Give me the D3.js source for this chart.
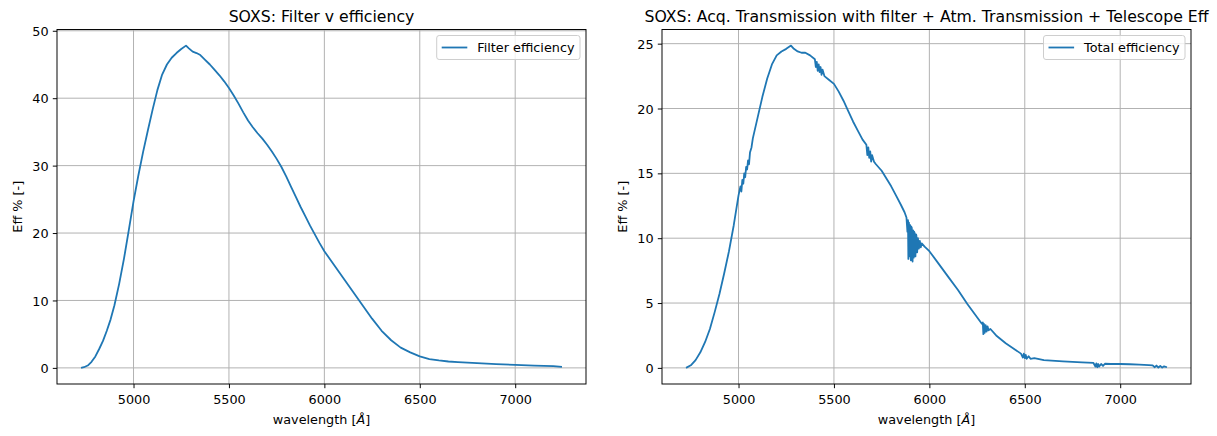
<!DOCTYPE html>
<html>
<head>
<meta charset="utf-8">
<script src="https://cdn.jsdelivr.net/npm/d3@7"></script>
<style>
  body { margin: 0; background: #fff; }
  svg text { font-family: "DejaVu Sans", sans-serif; fill: #000; }
</style>
</head>
<body>
<svg id="fig" width="1217" height="436"></svg>
<script>
// --- data ---
const filterWl = [4725, 4740, 4760, 4780, 4800, 4820, 4840, 4860, 4880, 4900, 4925, 4950, 4975, 5000,
  5025, 5050, 5075, 5100, 5125, 5150, 5175, 5200, 5225, 5250, 5275, 5290, 5310, 5330, 5350, 5375,
  5400, 5425, 5450, 5475, 5500, 5525, 5550, 5575, 5600, 5625, 5650, 5675, 5700, 5725, 5750, 5775,
  5800, 5825, 5850, 5875, 5900, 5925, 5950, 5975, 6000, 6050, 6100, 6150, 6200, 6250, 6300, 6350,
  6400, 6450, 6500, 6550, 6600, 6650, 6700, 6800, 6900, 7000, 7100, 7200, 7245];
const filterEff = [0, 0.1, 0.35, 0.9, 1.7, 2.8, 4.0, 5.5, 7.2, 9.3, 12.5, 16.2, 20.4, 24.7,
  28.5, 32.0, 35.2, 38.3, 41.2, 43.5, 45.0, 46.0, 46.7, 47.3, 47.8, 47.4, 46.9, 46.7, 46.4, 45.7,
  45.0, 44.2, 43.4, 42.5, 41.5, 40.4, 39.2, 37.9, 36.7, 35.7, 34.8, 34.0, 33.1, 32.1, 31.0, 29.8,
  28.4, 26.9, 25.4, 23.9, 22.5, 21.1, 19.8, 18.5, 17.3, 15.3, 13.3, 11.3, 9.3, 7.3, 5.5, 4.1,
  3.0, 2.3, 1.7, 1.3, 1.1, 0.95, 0.85, 0.7, 0.55, 0.45, 0.35, 0.25, 0.15];

const totalWl = [4725, 4750, 4775, 4800, 4825, 4850, 4875, 4900, 4925, 4950, 4975, 5000,
  5010, 5015, 5020, 5025, 5030, 5035, 5040, 5045, 5050, 5055, 5060, 5068, 5075, 5100, 5125, 5150, 5175,
  5200, 5225, 5250, 5275, 5290, 5310, 5330, 5350, 5375, 5400,
  5405, 5410, 5415, 5420, 5425, 5430, 5435, 5440, 5450, 5475, 5500, 5525, 5550, 5575, 5600, 5625,
  5650, 5670, 5675, 5680, 5685, 5690, 5695, 5700, 5710, 5720, 5750, 5775, 5800, 5825, 5850, 5870,
  5880, 5885, 5888, 5890, 5893, 5897, 5900, 5903, 5905, 5908, 5912, 5915, 5918, 5920, 5923, 5927,
  5930, 5932, 5936, 5940, 5945, 5950, 5955, 5960, 5975, 6000, 6050, 6100, 6150, 6200, 6250, 6275,
  6280, 6283, 6286, 6290, 6295, 6300, 6305, 6310, 6320, 6350, 6400, 6450, 6480,
  6490, 6495, 6500, 6505, 6510, 6520, 6530, 6550, 6600, 6700, 6800, 6860,
  6870, 6875, 6880, 6885, 6890, 6900, 6910, 6920, 6950, 7000, 7050, 7100, 7150, 7170,
  7180, 7190, 7200, 7210, 7220, 7230, 7245];
const totalEff = [0, 0.2, 0.6, 1.2, 2.0, 3.0, 4.3, 5.7, 7.3, 9.0, 11.0, 13.3,
  14.0, 13.6, 14.5, 14.2, 15.0, 14.7, 15.5, 15.3, 16.0, 15.7, 16.6, 17.0, 17.7, 19.3, 20.9, 22.3, 23.4,
  24.1, 24.4, 24.6, 24.85, 24.6, 24.4, 24.3, 24.3, 24.1, 23.8,
  23.2, 23.6, 22.9, 23.4, 22.8, 23.2, 22.6, 23.0, 22.5, 22.2, 21.9, 21.3, 20.6, 19.8, 19.0, 18.3,
  17.6, 17.2, 16.4, 17.0, 16.2, 16.7, 15.9, 16.4, 15.9, 15.7, 15.2, 14.6, 14.0, 13.3, 12.6, 12.0,
  11.6, 10.5, 11.4, 8.4, 11.2, 8.6, 11.0, 8.3, 10.9, 10.8, 8.2, 10.6, 8.5, 10.5, 10.4, 8.6,
  10.3, 10.2, 8.9, 10.0, 9.2, 9.8, 9.3, 9.6, 9.35, 9.0, 8.0, 7.0, 6.0, 4.9, 3.9, 3.4,
  3.5, 2.6, 3.4, 2.7, 3.3, 2.8, 3.2, 2.9, 3.0, 2.5, 1.9, 1.4, 1.1,
  0.8, 1.1, 0.75, 1.0, 0.7, 0.9, 0.7, 0.75, 0.6, 0.5, 0.42, 0.38,
  0.1, 0.35, 0.05, 0.3, 0.1, 0.3, 0.15, 0.32, 0.3, 0.3, 0.28, 0.25, 0.22, 0.2,
  0.05, 0.18, 0.03, 0.15, 0.02, 0.12, 0.05];

const xTicks = [5000, 5500, 6000, 6500, 7000];
const yTicksLeft = [0, 10, 20, 30, 40, 50];
const yTicksRight = [0, 5, 10, 15, 20, 25];

const svg = d3.select("#fig");
const blue = "#1f77b4";
const fs = 12.8;

// matplotlib style autoscale: 5% margin each side
function padded(vals) {
  const [a, b] = d3.extent(vals);
  const m = (b - a) * 0.05;
  return [a - m, b + m];
}

function panel(cfg) {
  const { left, right, top, bottom } = cfg.box;
  const x = d3.scaleLinear().domain(padded(cfg.wl)).range([left, right]);
  const y = d3.scaleLinear().domain(padded(cfg.eff)).range([bottom, top]);
  const g = svg.append("g");

  // grid
  g.append("g").selectAll("line").data(cfg.xTicks).join("line")
    .attr("x1", d => x(d)).attr("x2", d => x(d))
    .attr("y1", top).attr("y2", bottom)
    .attr("stroke", "#b0b0b0").attr("stroke-width", 0.97);
  g.append("g").selectAll("line").data(cfg.yTicks).join("line")
    .attr("x1", left).attr("x2", right)
    .attr("y1", d => y(d)).attr("y2", d => y(d))
    .attr("stroke", "#b0b0b0").attr("stroke-width", 0.97);

  // curve
  const pts = cfg.wl.map((w, i) => [w, cfg.eff[i]]);
  g.append("path").datum(pts)
    .attr("d", d3.line().x(d => x(d[0])).y(d => y(d[1])))
    .attr("fill", "none").attr("stroke", blue)
    .attr("stroke-width", 1.8).attr("stroke-linejoin", "round").attr("stroke-linecap", "butt");

  // frame
  g.append("rect").attr("x", left).attr("y", top)
    .attr("width", right - left).attr("height", bottom - top)
    .attr("fill", "none").attr("stroke", "#000").attr("stroke-width", 0.97);

  // axes
  const ax = g.append("g").attr("transform", `translate(0,${bottom})`)
    .call(d3.axisBottom(x).tickValues(cfg.xTicks).tickFormat(d3.format("d"))
      .tickSize(4.2).tickPadding(6.8));
  const ay = g.append("g").attr("transform", `translate(${left},0)`)
    .call(d3.axisLeft(y).tickValues(cfg.yTicks).tickFormat(d3.format("d"))
      .tickSize(4.2).tickPadding(4.2));
  [ax, ay].forEach(a => {
    a.select(".domain").remove();
    a.selectAll(".tick line").attr("stroke", "#000").attr("stroke-width", 0.97);
    a.selectAll(".tick text").attr("font-size", fs).attr("font-family", "DejaVu Sans").attr("fill", "#000");
  });
  ay.selectAll(".tick text").attr("dy", "0.36em");

  // title
  g.append("text").attr("x", (left + right) / 2).attr("y", top - 8)
    .attr("text-anchor", "middle").attr("font-size", 15.7).text(cfg.title);

  // x label
  const xl = g.append("text").attr("x", (left + right) / 2).attr("y", bottom + 40)
    .attr("text-anchor", "middle").attr("font-size", fs);
  xl.append("tspan").text("wavelength [");
  xl.append("tspan").attr("font-style", "italic").text("Å");
  xl.append("tspan").text("]");

  // y label
  const ly = (top + bottom) / 2;
  g.append("text").attr("transform", `translate(${left - 35},${ly}) rotate(-90)`)
    .attr("text-anchor", "middle").attr("font-size", fs).text("Eff % [-]");

  // legend
  const lg = g.append("g");
  const lt = lg.append("text").attr("font-size", fs).text(cfg.legend);
  const tw = lt.node().getComputedTextLength();
  const bw = 5 + 25.6 + 10 + tw + 5.5;
  const bh = 24;
  const bx = right - 6 - bw, by = top + 6;
  lg.insert("rect", "text").attr("x", bx).attr("y", by).attr("width", bw).attr("height", bh)
    .attr("rx", 2.5).attr("fill", "#fff").attr("fill-opacity", 0.8)
    .attr("stroke", "#cccccc").attr("stroke-width", 0.97);
  lg.append("line").attr("x1", bx + 5).attr("x2", bx + 30.6)
    .attr("y1", by + bh / 2).attr("y2", by + bh / 2)
    .attr("stroke", blue).attr("stroke-width", 1.8);
  lt.attr("x", bx + 5 + 25.6 + 10).attr("y", by + bh / 2 + 4.6);
}

panel({
  box: { left: 57, right: 586, top: 29.5, bottom: 384 },
  wl: filterWl, eff: filterEff, xTicks, yTicks: yTicksLeft,
  title: "SOXS: Filter v efficiency", legend: "Filter efficiency"
});
panel({
  box: { left: 662, right: 1191, top: 29.5, bottom: 384 },
  wl: totalWl, eff: totalEff, xTicks, yTicks: yTicksRight,
  title: "SOXS: Acq. Transmission with filter + Atm. Transmission + Telescope Eff", legend: "Total efficiency"
});
</script>
</body>
</html>
